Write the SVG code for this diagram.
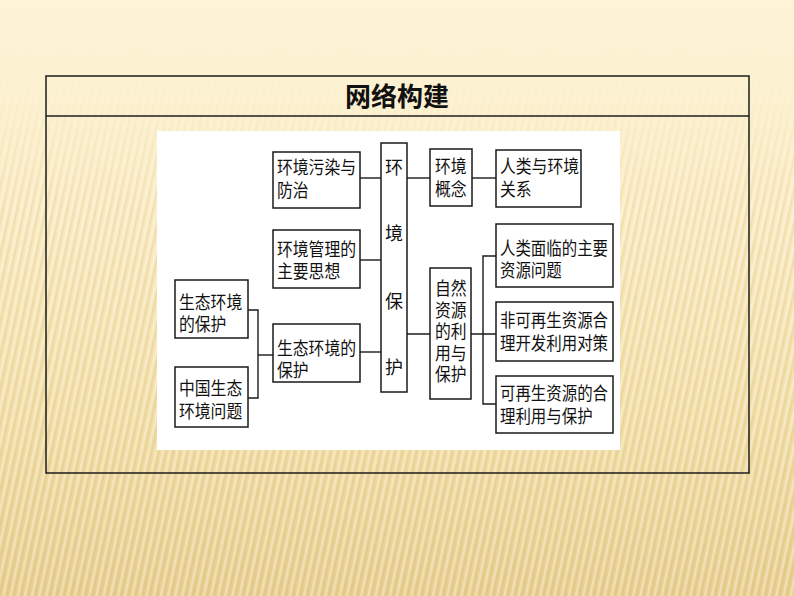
<svg xmlns="http://www.w3.org/2000/svg" width="794" height="596" viewBox="0 0 794 596">
<defs>
<linearGradient id="bg" x1="0" y1="0" x2="0" y2="1">
<stop offset="0" stop-color="#FDF3D6"/>
<stop offset="0.3" stop-color="#FAEBC3"/>
<stop offset="0.7" stop-color="#F1DDA5"/>
<stop offset="1" stop-color="#E7CD8D"/>
</linearGradient>
<pattern id="stripes" width="7" height="7" patternUnits="userSpaceOnUse" patternTransform="rotate(12)">
<rect x="0" y="0" width="2.5" height="7" fill="#ffffff" opacity="0.35"/>
<rect x="3.5" y="0" width="1.5" height="7" fill="#C9A55A" opacity="0.18"/>
</pattern>
<linearGradient id="fadeTop" x1="0" y1="0" x2="0" y2="1">
<stop offset="0" stop-color="#FDF3D6" stop-opacity="1"/>
<stop offset="0.16" stop-color="#FCF1D0" stop-opacity="0.9"/>
<stop offset="0.35" stop-color="#FAEBC3" stop-opacity="0"/>
</linearGradient>
<linearGradient id="orange" x1="0" y1="0" x2="1" y2="0">
<stop offset="0" stop-color="#E3A94A" stop-opacity="0"/>
<stop offset="0.15" stop-color="#E3A94A" stop-opacity="0.8"/>
<stop offset="1" stop-color="#DFA040" stop-opacity="1"/>
</linearGradient>
</defs>
<style>
.box{fill:#ffffff;stroke:#1a1a1a;stroke-width:1.5}
.t{font-family:"Noto Sans CJK SC","Noto Sans",sans-serif;font-size:18px;fill:#111}
.title{font-family:"Noto Sans CJK SC","Noto Sans",sans-serif;font-size:26px;font-weight:bold;fill:#111}
.ln{stroke:#1a1a1a;stroke-width:1.4;fill:none}
</style>
<rect x="0" y="0" width="794" height="596" fill="url(#bg)"/>
<rect x="0" y="0" width="794" height="596" fill="url(#stripes)"/>
<rect x="0" y="0" width="794" height="596" fill="url(#fadeTop)"/>
<line x1="50" y1="91" x2="794" y2="91" stroke="url(#orange)" stroke-width="2"/>
<rect x="46" y="76" width="703" height="397" fill="none" stroke="#1c1c1c" stroke-width="1.5"/>
<line x1="46" y1="116" x2="749" y2="116" stroke="#1c1c1c" stroke-width="1.5"/>
<text class="title" x="397" y="106" text-anchor="middle">网络构建</text>
<rect x="157" y="131" width="463" height="319" fill="#ffffff"/>
<g id="connectors">
<line class="ln" x1="360" y1="178" x2="381" y2="178"/>
<line class="ln" x1="360" y1="260" x2="381" y2="260"/>
<line class="ln" x1="360" y1="352" x2="381" y2="352"/>
<line class="ln" x1="407" y1="178" x2="430" y2="178"/>
<line class="ln" x1="472" y1="178" x2="496" y2="178"/>
<line class="ln" x1="407" y1="334" x2="496" y2="334"/>
<polyline class="ln" points="496,256 483,256 483,404 496,404"/>
<polyline class="ln" points="248,310 258,310 258,398 248,398"/>
<line class="ln" x1="258" y1="355" x2="273" y2="355"/>
</g>
<g id="n1"><rect class="box" x="273" y="152" width="87" height="56"/>
<text class="t"><tspan x="277" y="174" textLength="79" lengthAdjust="spacingAndGlyphs">环境污染与</tspan><tspan x="277" y="197" textLength="31.6" lengthAdjust="spacingAndGlyphs">防治</tspan></text></g>
<g id="n2"><rect class="box" x="273" y="230" width="87" height="58"/>
<text class="t"><tspan x="277" y="256" textLength="79" lengthAdjust="spacingAndGlyphs">环境管理的</tspan><tspan x="277" y="278" textLength="63.2" lengthAdjust="spacingAndGlyphs">主要思想</tspan></text></g>
<g id="n3"><rect class="box" x="273" y="324" width="87" height="58"/>
<text class="t"><tspan x="277" y="355" textLength="79" lengthAdjust="spacingAndGlyphs">生态环境的</tspan><tspan x="277" y="377" textLength="31.6" lengthAdjust="spacingAndGlyphs">保护</tspan></text></g>
<g id="n4"><rect class="box" x="381" y="143" width="26" height="249"/>
<text class="t" text-anchor="middle"><tspan x="394" y="174">环</tspan><tspan x="394" y="240">境</tspan><tspan x="394" y="308">保</tspan><tspan x="394" y="374">护</tspan></text></g>
<g id="n5"><rect class="box" x="430" y="149" width="42" height="57"/>
<text class="t"><tspan x="435" y="173" textLength="31.6" lengthAdjust="spacingAndGlyphs">环境</tspan><tspan x="435" y="196" textLength="31.6" lengthAdjust="spacingAndGlyphs">概念</tspan></text></g>
<g id="n6"><rect class="box" x="496" y="150" width="85" height="57"/>
<text class="t"><tspan x="500" y="173" textLength="79" lengthAdjust="spacingAndGlyphs">人类与环境</tspan><tspan x="500" y="196" textLength="31.6" lengthAdjust="spacingAndGlyphs">关系</tspan></text></g>
<g id="n7"><rect class="box" x="496" y="224" width="117" height="63"/>
<text class="t"><tspan x="500" y="255" textLength="108" lengthAdjust="spacingAndGlyphs">人类面临的主要</tspan><tspan x="500" y="277" textLength="61.7" lengthAdjust="spacingAndGlyphs">资源问题</tspan></text></g>
<g id="n8"><rect class="box" x="430" y="268" width="41" height="131"/>
<text class="t"><tspan x="435" y="295" textLength="31.6" lengthAdjust="spacingAndGlyphs">自然</tspan><tspan x="435" y="316.5" textLength="31.6" lengthAdjust="spacingAndGlyphs">资源</tspan><tspan x="435" y="338" textLength="31.6" lengthAdjust="spacingAndGlyphs">的利</tspan><tspan x="435" y="359.5" textLength="31.6" lengthAdjust="spacingAndGlyphs">用与</tspan><tspan x="435" y="381" textLength="31.6" lengthAdjust="spacingAndGlyphs">保护</tspan></text></g>
<g id="n9"><rect class="box" x="496" y="302" width="117" height="59"/>
<text class="t"><tspan x="500" y="327" textLength="108" lengthAdjust="spacingAndGlyphs">非可再生资源合</tspan><tspan x="500" y="350" textLength="108" lengthAdjust="spacingAndGlyphs">理开发利用对策</tspan></text></g>
<g id="n10"><rect class="box" x="496" y="376" width="117" height="57"/>
<text class="t"><tspan x="500" y="400" textLength="108" lengthAdjust="spacingAndGlyphs">可再生资源的合</tspan><tspan x="500" y="423" textLength="92.6" lengthAdjust="spacingAndGlyphs">理利用与保护</tspan></text></g>
<g id="n11"><rect class="box" x="175" y="280" width="73" height="58"/>
<text class="t"><tspan x="179" y="308.5" textLength="63.2" lengthAdjust="spacingAndGlyphs">生态环境</tspan><tspan x="179" y="331" textLength="47.4" lengthAdjust="spacingAndGlyphs">的保护</tspan></text></g>
<g id="n12"><rect class="box" x="175" y="367" width="73" height="60"/>
<text class="t"><tspan x="179" y="395" textLength="63.2" lengthAdjust="spacingAndGlyphs">中国生态</tspan><tspan x="179" y="418" textLength="63.2" lengthAdjust="spacingAndGlyphs">环境问题</tspan></text></g>
</svg>
